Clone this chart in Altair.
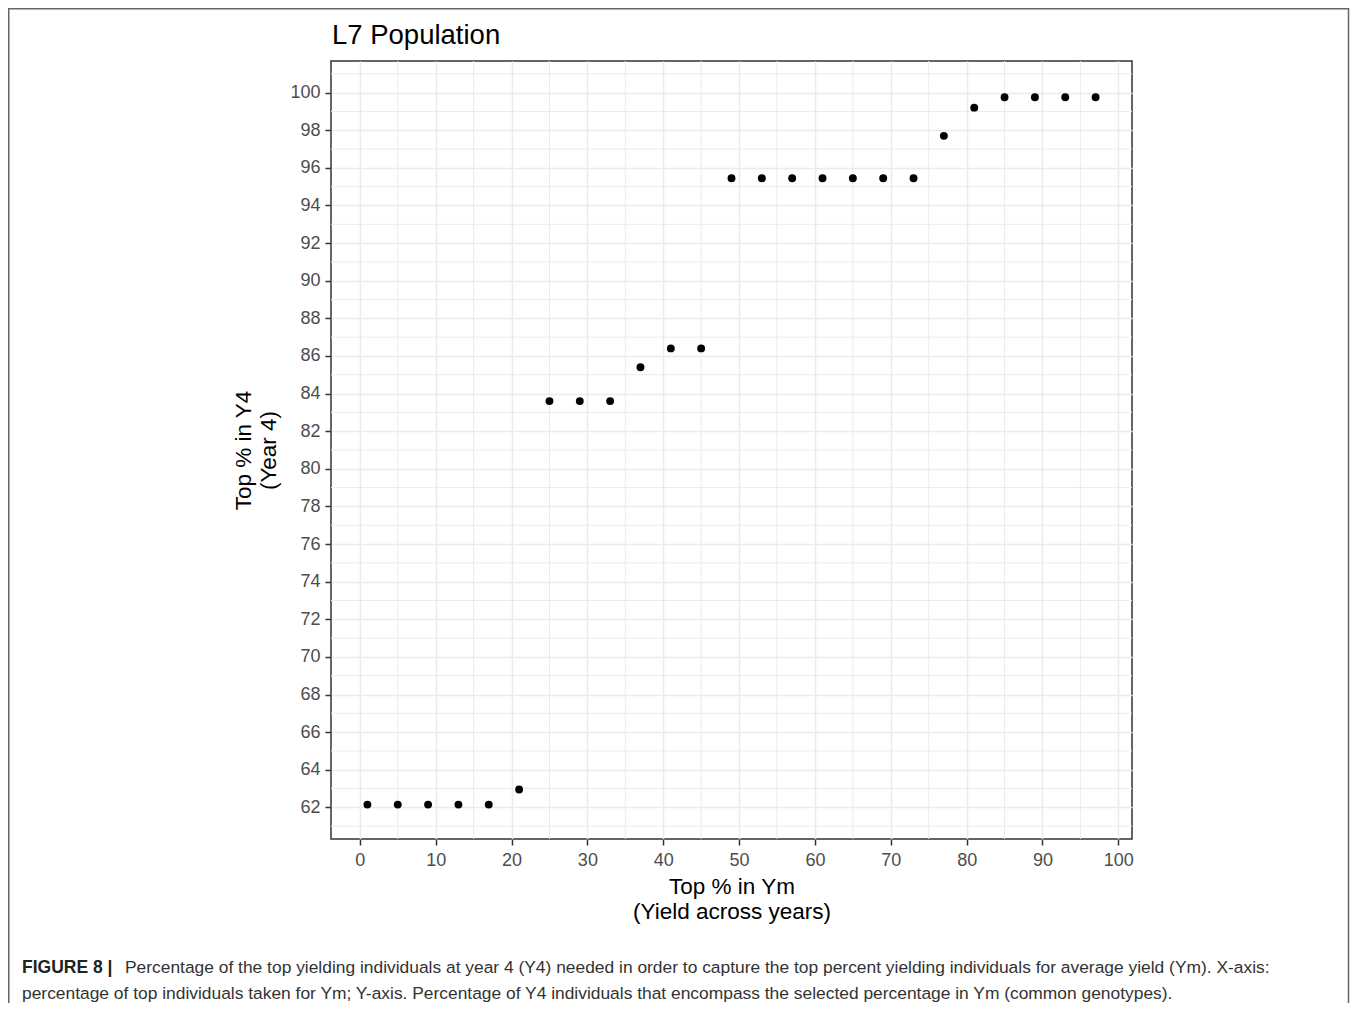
import altair as alt
import pandas as pd

# ---- data ----
x_vals = [1, 5, 9, 13, 17, 21, 25, 29, 33, 37, 41, 45, 49, 53, 57, 61, 65, 69, 73, 77, 81, 85, 89, 93, 97]
y_vals = [62.15, 62.15, 62.15, 62.15, 62.15, 62.95, 83.6, 83.6, 83.6, 85.4, 86.4, 86.4,
          95.45, 95.45, 95.45, 95.45, 95.45, 95.45, 95.45, 97.7, 99.2, 99.75, 99.75, 99.75, 99.75]
x_ticks = list(range(0, 101, 10))
y_ticks = list(range(62, 101, 2))
x_minor = list(range(5, 100, 10))
y_minor = list(range(61, 102, 2))

title_text = "L7 Population"
x_title = ["Top % in Ym", "(Yield across years)"]
y_title = ["Top % in Y4", "(Year 4)"]
caption_bold = "FIGURE 8 |"
caption_line1 = ("Percentage of the top yielding individuals at year 4 (Y4) needed in order to capture "
                 "the top percent yielding individuals for average yield (Ym). X-axis:")
caption_line2 = ("percentage of top individuals taken for Ym; Y-axis. Percentage of Y4 individuals that "
                 "encompass the selected percentage in Ym (common genotypes).")

df = pd.DataFrame({"x": x_vals, "y": y_vals})
one = pd.DataFrame({"k": [0]})

W, H = 801, 778
FONT = "Liberation Sans"
CAP_FONT = "Liberation Sans"

xscale = alt.Scale(domain=[-3.8, 101.8], nice=False, zero=False)
yscale = alt.Scale(domain=[60.32, 101.68], nice=False, zero=False)
x_axis = alt.Axis(values=x_ticks, title=x_title, labelPadding=6, titlePadding=6)
y_axis = alt.Axis(values=y_ticks, title=y_title, labelPadding=5, titlePadding=9)

minor_v = alt.Chart(pd.DataFrame({"x": x_minor})).mark_rule(
    color="#EBEBEB", strokeWidth=1
).encode(x=alt.X("x:Q", scale=xscale, axis=x_axis))

minor_h = alt.Chart(pd.DataFrame({"y": y_minor})).mark_rule(
    color="#EBEBEB", strokeWidth=1
).encode(y=alt.Y("y:Q", scale=yscale, axis=y_axis))

points = alt.Chart(df).mark_circle(size=62, color="black", opacity=1).encode(
    x=alt.X("x:Q", scale=xscale, axis=x_axis),
    y=alt.Y("y:Q", scale=yscale, axis=y_axis),
)

border = alt.Chart(one).mark_rect(fill=None, stroke="#666666", strokeWidth=1.5).encode(
    x=alt.value(-322.25), x2=alt.value(1017.5), y=alt.value(-52.25), y2=alt.value(990)
)

title = alt.Chart(one).mark_text(
    text=title_text, align="left", baseline="alphabetic", font=FONT, fontSize=27.5, color="black"
).encode(x=alt.value(1), y=alt.value(-17))

cap_b = alt.Chart(one).mark_text(
    text=caption_bold, align="left", baseline="middle", font=CAP_FONT, fontSize=17.5,
    fontWeight="bold", color="#222222"
).encode(x=alt.value(-309), y=alt.value(907))

cap_1 = alt.Chart(one).mark_text(
    text=caption_line1, align="left", baseline="middle", font=CAP_FONT, fontSize=17.4, color="#333333"
).encode(x=alt.value(-206), y=alt.value(907))

cap_2 = alt.Chart(one).mark_text(
    text=caption_line2, align="left", baseline="middle", font=CAP_FONT, fontSize=17.4, color="#333333"
).encode(x=alt.value(-309), y=alt.value(933))

chart = alt.layer(minor_v, minor_h, points, border, title, cap_b, cap_1, cap_2).properties(
    width=W, height=H,
    autosize="none",
    padding={"left": 323, "top": 53, "right": 218, "bottom": 164},
).configure_view(
    stroke="#333333", strokeWidth=1.5
).configure_axis(
    grid=True, gridColor="#EBEBEB", gridWidth=1.5,
    domain=False,
    tickColor="#333333", tickSize=6, tickWidth=1.5,
    labelFont=FONT, labelFontSize=18, labelColor="#4D4D4D",
    titleFont=FONT, titleFontSize=22.5, titleFontWeight="normal", titleColor="black",
    titleLineHeight=25,
)

chart.save("out.html", embed_options={"renderer": "svg", "actions": False})
